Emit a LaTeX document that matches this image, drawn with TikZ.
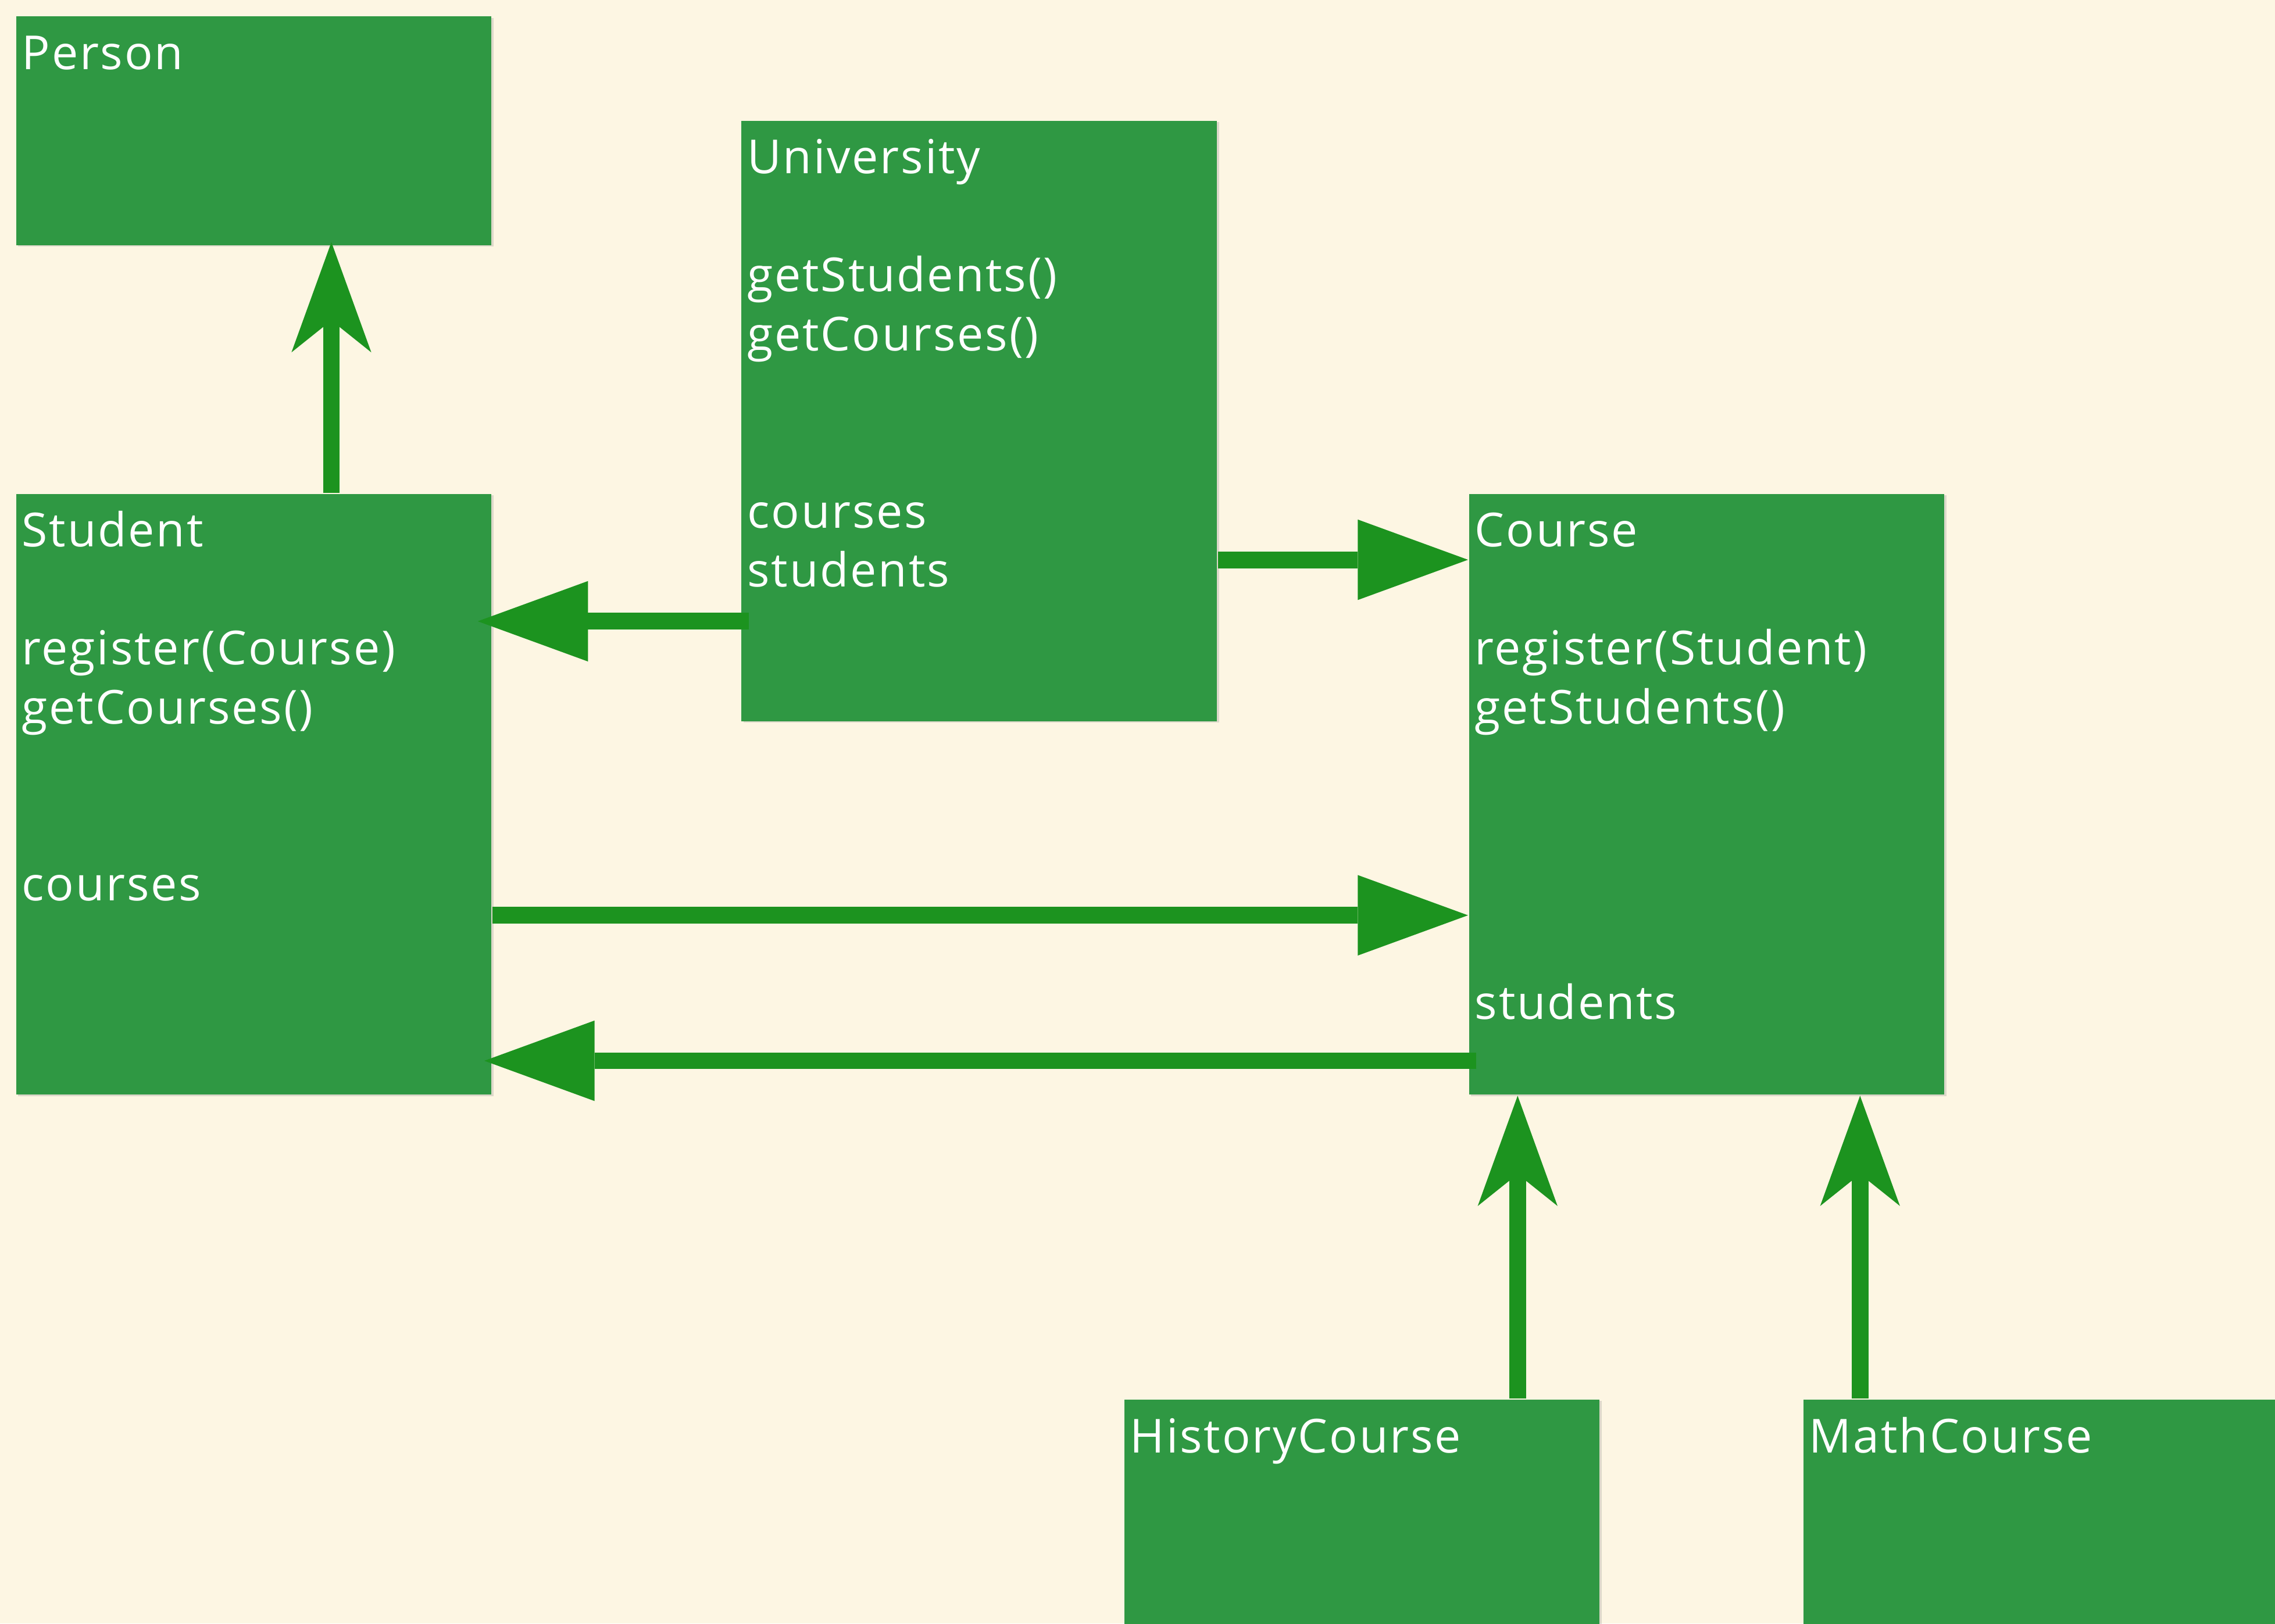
\documentclass[tikz,border=0pt]{standalone}
\usepackage{fontspec}
\setmainfont[LetterSpace=3.5]{Open Sans}
\usetikzlibrary{positioning,arrows.meta,shadows}

\definecolor{pagebg}{HTML}{FDF6E3}
\definecolor{boxgreen}{HTML}{2F9843}
\definecolor{linkgreen}{HTML}{1C931F}

\begin{document}
\begin{tikzpicture}[x=0.1mm, y=-0.1mm,
  classbox/.style={fill=boxgreen, anchor=north west, inner sep=0pt, minimum width=32.75mm,
    drop shadow={shadow xshift=0.15mm, shadow yshift=-0.1mm, opacity=0.25}},
  classtext/.style={anchor=base west, inner sep=0pt, text=white, font=\fontsize{9.2}{11.58}\selectfont},
  link/.style={draw=linkgreen, line width=1.16mm},
  assoc/.style={link, -{Triangle[length=7.6mm, width=5.55mm, line width=0pt]}},
  inherit/.style={link, -{Stealth[length=7.6mm, width=5.5mm, inset=2.2mm, line width=0pt]}}]
  %----- page -----
  \useasboundingbox (0,0) rectangle (1568,1119.2);
  \clip (0,0) rectangle (1568,1119.2);
  \fill[pagebg] (0,0) rectangle (1568,1119.2);

  %----- one class = green box + its lines -----
  \def\umlclass#1#2#3#4{% (name, top left corner, height, lines)
    \node[classbox, minimum height=#3] (#1) at (#2) {};
    \node[classtext] (#1-text) at ([xshift=0.4mm, yshift=-3.72mm]#1.north west)
      {\parbox[t]{32mm}{\raggedright #4}};
  }

  %----- classes -----
  \umlclass{Person}{10.4,10.7}{15.76mm}{Person}
  \umlclass{University}{510.4,82.5}{41.4mm}%
    {University\\[\baselineskip]getStudents()\\getCourses()\\[2\baselineskip]courses\\students}
  \umlclass{Student}{10.4,339.7}{41.43mm}%
    {Student\\[\baselineskip]register(Course)\\getCourses()\\[2\baselineskip]courses}
  \umlclass{Course}{1011.8,339.7}{41.43mm}%
    {Course\\[\baselineskip]register(Student)\\getStudents()\\[4\baselineskip]students}
  % bottom row runs off the page
  \umlclass{HistoryCourse}{774.2,964.2}{20mm}{HistoryCourse}
  \umlclass{MathCourse}{1242.3,964.2}{20mm}{MathCourse}

  %----- inheritance -----
  \draw[inherit, shorten >=-0.28mm]
    ([xshift=21.8mm]Student.north west) -- ([xshift=21.8mm]Student.north west |- Person.south);
  \draw[inherit]
    ([xshift=27.18mm]HistoryCourse.north west) -- ([xshift=27.18mm]HistoryCourse.north west |- Course.south);
  \draw[inherit]
    ([xshift=3.97mm]MathCourse.north west) -- ([xshift=3.97mm]MathCourse.north west |- Course.south);

  %----- associations -----
  \draw[assoc, shorten <=-0.56mm, shorten >=-1.0mm]
    ([yshift=-34.58mm]University.north west) -- ([yshift=-34.58mm]University.north west -| Student.east);
  \draw[assoc]
    ([yshift=-30.34mm]University.north east) -- ([yshift=-30.34mm]University.north east -| Course.west);
  \draw[assoc]
    ([yshift=-29.13mm]Student.north east) -- ([yshift=-29.13mm]Student.north east -| Course.west);
  \draw[assoc, shorten <=-0.57mm, shorten >=-0.55mm]
    ([yshift=-39.16mm]Course.north west) -- ([yshift=-39.16mm]Course.north west -| Student.east);
\end{tikzpicture}
\end{document}
